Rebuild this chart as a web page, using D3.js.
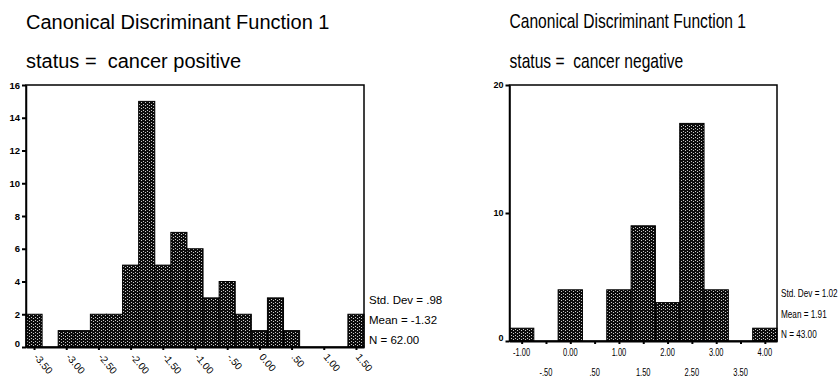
<!DOCTYPE html>
<html>
<head>
<meta charset="utf-8">
<script src="https://cdn.jsdelivr.net/npm/d3@7"></script>
<style>
  body { margin: 0; background: #fff; }
  svg text { font-family: "Liberation Sans", Arial, Helvetica, sans-serif; fill: #000; }
</style>
</head>
<body>
<div id="chart"></div>
<script>
'use strict';

// cancer positive panel
var posBins       = [-3.50, -3.25, -3.00, -2.75, -2.50, -2.25, -2.00, -1.75, -1.50, -1.25, -1.00,
                     -0.75, -0.50, -0.25, 0.00, 0.25, 0.50, 0.75, 1.00, 1.25, 1.50];
var posCounts     = [2, 0, 1, 1, 2, 2, 5, 15, 5, 7, 6, 3, 4, 2, 1, 3, 1, 0, 0, 0, 2];
var posXTicks     = [-3.5, -3, -2.5, -2, -1.5, -1, -0.5, 0, 0.5, 1, 1.5];
var posXLabels    = ["-3.50", "-3.00", "-2.50", "-2.00", "-1.50", "-1.00", "-.50", "0.00", ".50", "1.00", "1.50"];
var posYTicks     = [0, 2, 4, 6, 8, 10, 12, 14, 16];
var posStats      = ["Std. Dev = .98", "Mean = -1.32", "N = 62.00"];

// cancer negative panel
var negBins       = [-1.00, -0.50, 0.00, 0.50, 1.00, 1.50, 2.00, 2.50, 3.00, 3.50, 4.00];
var negCounts     = [1, 0, 4, 0, 4, 9, 3, 17, 4, 0, 1];
var negXLabels    = ["-1.00", "-.50", "0.00", ".50", "1.00", "1.50", "2.00", "2.50", "3.00", "3.50", "4.00"];
var negYTicks     = [0, 10, 20];
var negStats      = ["Std. Dev = 1.02", "Mean = 1.91", "N = 43.00"];

var titleText = "Canonical Discriminant Function 1";

var svg = d3.select("#chart").append("svg")
    .attr("width", 840)
    .attr("height", 378);

// speckled fill, like the scanned SPSS bars
var pat = svg.append("defs").append("pattern")
    .attr("id", "speck")
    .attr("patternUnits", "userSpaceOnUse")
    .attr("width", 4)
    .attr("height", 6);
pat.append("rect").attr("width", 4).attr("height", 6).attr("fill", "#0c0c0c");
[[1, 0], [1, 3], [3, 2], [3, 5]].forEach(function(p) {
    pat.append("rect").attr("x", p[0]).attr("y", p[1]).attr("width", 1).attr("height", 1).attr("fill", "#c8c8c8");
});

function PlotHistogram(config, bins, counts) {
    var g = svg.append("g");
    var x = d3.scaleLinear().domain(config.xDomain).range([config.left, config.right]);
    var y = d3.scaleLinear().domain(config.yDomain).range([config.bottom, config.top]);
    var half = config.binWidth / 2;

    // titles
    g.append("text")
        .attr("transform", "translate(" + config.left + "," + config.titleY + ") scale(" + config.textScale + ",1)")
        .style("font-size", "20px")
        .text(titleText);
    g.append("text")
        .attr("transform", "translate(" + config.left + "," + config.statusY + ") scale(" + config.textScale + ",1)")
        .style("font-size", "20px")
        .style("white-space", "pre")
        .text(config.status);

    // bars
    var data = bins.map(function(b, i) { return { bin: b, n: counts[i] }; })
        .filter(function(d) { return d.n > 0; });

    g.selectAll(".bar")
        .data(data)
        .enter().append("rect")
        .attr("class", "bar")
        .attr("x", function(d) { return x(d.bin - half); })
        .attr("width", function(d) { return x(d.bin + half) - x(d.bin - half); })
        .attr("y", function(d) { return y(d.n); })
        .attr("height", function(d) { return y(0) - y(d.n); })
        .attr("fill", "url(#speck)")
        .attr("stroke", "#000")
        .attr("stroke-width", 1);

    // frame
    g.append("rect")
        .attr("x", config.left)
        .attr("y", config.top)
        .attr("width", config.right - config.left)
        .attr("height", config.bottom - config.top)
        .attr("fill", "none")
        .attr("stroke", "#000")
        .attr("stroke-width", 1.5);

    // y axis
    var yAxis = g.append("g")
        .attr("transform", "translate(" + config.left + ",0)")
        .call(d3.axisLeft(y).tickValues(config.yTicks).tickSize(4).tickSizeOuter(0).tickPadding(2));
    yAxis.select(".domain").attr("stroke-width", 1.5);
    yAxis.selectAll(".tick line").attr("stroke-width", 2);
    yAxis.selectAll(".tick text")
        .attr("font-family", null)
        .attr("font-size", null)
        .style("font-size", config.yFont)
        .style("font-weight", "bold")
        .attr("dy", function(d) { return d === 0 ? "-0.05em" : "0.32em"; });

    // x axis ticks
    var xAxis = g.append("g")
        .attr("transform", "translate(0," + config.bottom + ")")
        .call(d3.axisBottom(x).tickValues(config.xTicks).tickSize(3).tickSizeOuter(0).tickFormat(""));
    xAxis.select(".domain").attr("stroke-width", 2);
    xAxis.selectAll(".tick line").attr("stroke-width", 2);

    config.xLabels(g, x);

    // summary statistics
    g.selectAll(".stat")
        .data(config.stats)
        .enter().append("text")
        .attr("class", "stat")
        .attr("transform", function(d, i) {
            return "translate(" + config.statX + "," + config.statY[i] + ") scale(" + config.statScale + ",1)";
        })
        .attr("dy", "0.35em")
        .style("font-size", config.statFont)
        .text(function(d) { return d; });
}

PlotHistogram({
    left: 26, right: 364, top: 85, bottom: 347,
    xDomain: [-3.625, 1.625], yDomain: [0, 16], binWidth: 0.25,
    yTicks: posYTicks, xTicks: posXTicks, yFont: "9.5px",
    titleY: 29, statusY: 68, textScale: 1,
    status: "status =  cancer positive",
    stats: posStats, statX: 369, statY: [300, 320, 340], statScale: 1, statFont: "11.5px",
    xLabels: function(g, x) {
        g.selectAll(".xlab")
            .data(posXTicks)
            .enter().append("text")
            .attr("class", "xlab")
            .attr("transform", function(d) { return "translate(" + (x(d) + 2) + ",355) rotate(50)"; })
            .attr("dy", "0.35em")
            .style("font-size", "10px")
            .text(function(d, i) { return posXLabels[i]; });
    }
}, posBins, posCounts);

PlotHistogram({
    left: 509.5, right: 777, top: 85, bottom: 341,
    xDomain: [-1.25, 4.25], yDomain: [0, 20], binWidth: 0.5,
    yTicks: negYTicks, xTicks: negBins, yFont: "9px",
    titleY: 28, statusY: 68, textScale: 0.78,
    status: "status =  cancer negative",
    stats: negStats, statX: 781, statY: [293, 314, 334], statScale: 0.82, statFont: "10px",
    xLabels: function(g, x) {
        g.selectAll(".xlab")
            .data(negBins)
            .enter().append("text")
            .attr("class", "xlab")
            .attr("transform", function(d, i) {
                return "translate(" + x(d) + "," + (i % 2 === 0 ? 352 : 372) + ") scale(0.75,1)";
            })
            .attr("dy", "0.35em")
            .attr("text-anchor", "middle")
            .style("font-size", "10px")
            .text(function(d, i) { return negXLabels[i]; });
    }
}, negBins, negCounts);
</script>
</body>
</html>
